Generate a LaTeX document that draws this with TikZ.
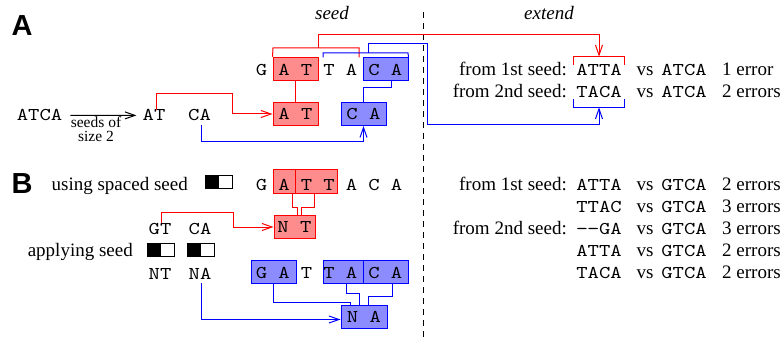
\documentclass[tikz,border=0pt]{standalone}
\usepackage{fontspec}
\setmainfont{Liberation Serif}
\newfontfamily\labfont{Liberation Sans}
\newfontfamily\ttf{lmmono10-regular.otf}[FakeStretch=1.2]
\usetikzlibrary{arrows.meta}
\definecolor{rline}{RGB}{255,0,0}
\definecolor{rfill}{RGB}{255,140,140}
\definecolor{bline}{RGB}{0,0,255}
\definecolor{bfill}{RGB}{140,140,255}
\newcommand\szN{\fontsize{19}{22}\selectfont}
\newcommand\szS{\fontsize{15.5}{17}\selectfont}
\newcommand\ttN{\fontsize{18}{22}\selectfont\ttf}
\begin{document}
\begin{tikzpicture}[x=1pt,y=-1pt,
  txt/.style={inner sep=0pt, anchor=base, font=\szN},
  tt/.style={inner sep=0pt, anchor=base, font=\ttN},
  lab/.style={inner sep=0pt, font=\labfont\fontsize{29}{30}\selectfont\bfseries},
  rbox/.style={draw=rline, fill=rfill, line width=1pt, inner sep=0pt, minimum height=23pt, font=\ttN},
  bbox/.style={draw=bline, fill=bfill, line width=1pt, inner sep=0pt, minimum height=23pt, font=\ttN},
  rd/.style={draw=rline, line width=1pt},
  bl/.style={draw=bline, line width=1pt},
  arr/.style={-{Straight Barb[length=10pt,width=7pt]}},
  seedicon/.style={draw, line width=0.8pt, minimum width=27pt, minimum height=13pt, inner sep=0pt,
    path picture={\fill[black] (path picture bounding box.south west) rectangle (path picture bounding box.north);}}
]
\useasboundingbox (0,0) rectangle (781,339);

% panel labels and headings
\node[lab] (labA) at (22,26) {A};
\node[lab] (labB) at (22,184) {B};
\node[txt, font=\szN\itshape] (hseed) at (332,20) {seed};
\node[txt, font=\szN\itshape] (hext) at (549,20) {extend};
\coordinate (dtop) at (423,12);
\coordinate (dbot) at (423,339);
\draw[line width=1pt, dash pattern=on 6pt off 5pt] (dtop) -- (dbot);

% ---------------- panel A ----------------
\node[rbox, minimum width=45pt] (rA1) at (295.5,69) {};
\node[bbox, minimum width=45pt] (bA1) at (385.5,69) {};
\foreach \x/\c/\n in {261.5/G/1,284/A/2,306.5/T/3,329/T/4,351.5/A/5,374/C/6,396.5/A/7}
  \node[tt] (aL\n) at (\x,76) {\c};

\node[tt] (wATCA) at (39.5,121) {ATCA};
\node[tt] (wAT) at (154,121) {AT};
\node[tt] (wCA) at (199.5,121) {CA};
\node[txt, font=\szS] (seedsof) at (96,128) {seeds of};
\node[txt, font=\szS] (sizetwo) at (96,142) {size 2};
\node[rbox, minimum width=45pt] (rA2) at (295.5,114) {A T};
\node[bbox, minimum width=45pt] (bA2) at (363.5,114) {C A};

\draw[line width=1pt, arr] ([xshift=8pt]wATCA.east) -- ([xshift=-6pt]wAT.west);

% right side A
\node[txt, anchor=base east] (fA1) at (567,76) {from 1st seed:};
\node[tt] (xA1) at (599,76) {ATTA};
\node[txt] (vA1) at (645,76) {vs};
\node[tt] (yA1) at (684,76) {ATCA};
\node[txt, anchor=base west] (eA1) at (722,76) {1 error};
\node[txt, anchor=base east] (fA2) at (567,98) {from 2nd seed:};
\node[tt] (xA2) at (599,98) {TACA};
\node[txt] (vA2) at (645,98) {vs};
\node[tt] (yA2) at (684,98) {ATCA};
\node[txt, anchor=base west] (eA2) at (722,98) {2 errors};

% brackets
\draw[rd] (rA1.north west) -- (273,48) -- (359,48) -- (359,57.5);
\draw[bl] (323,57.5) -- (323,53) -- (408,53) -- (bA1.north east);
\draw[rd] ([xshift=-2.5pt]xA1.north west) -- ++(0,-8) -| ([xshift=2.5pt]xA1.north east);
\draw[bl] ([xshift=-2.5pt]xA2.south west) ++(0,1) -- ++(0,8) -| ([xshift=2.5pt,yshift=-1pt]xA2.south east);

% connectors A
\coordinate (rj) at (318,48);
\coordinate (bj) at (368,53);
\draw[rd, arr] (rj) -- (318,35) -| ([yshift=8pt]xA1.north);
\draw[bl, arr] (bj) -- (368,44) -- (427,44) -- (427,125) -| ([yshift=-9pt]xA2.south);
\draw[rd] (rA1) -- (rA2);
\draw[bl] ([xshift=5.5pt]bA1.south) -- ++(0,7) -| (bA2.north);
\draw[rd, arr] ([xshift=2pt]wAT.north) |- (232,94) |- (rA2.west);
\draw[bl, arr] ([xshift=1.5pt,yshift=-4pt]wCA.south) |- (363.5,142) -- (bA2.south);

% ---------------- panel B ----------------
\node[txt, anchor=base east] (usp) at (188,190) {using spaced seed};
\node[seedicon] (ic1) at (219,181.5) {};
\node[rbox, minimum width=23pt] (rB1) at (284.5,181.5) {};
\node[rbox, minimum width=41.5pt] (rB2) at (316.5,181.5) {};
\foreach \x/\c/\n in {261.5/G/1,284/A/2,306.5/T/3,329/T/4,351.5/A/5,374/C/6,396.5/A/7}
  \node[tt] (bL\n) at (\x,190) {\c};
\node[rbox, minimum width=41pt] (rB3) at (294.5,227) {N T};

\node[tt] (wGT) at (160,234) {GT};
\node[tt] (wCA2) at (200,234) {CA};
\node[txt, anchor=base east] (apl) at (133,256) {applying seed};
\node[seedicon] (ic2) at (160.5,250) {};
\node[seedicon] (ic3) at (201,250) {};
\node[tt] (wNT) at (160,279) {NT};
\node[tt] (wNA) at (200,279) {NA};

\node[bbox, minimum width=45pt] (bB1) at (273.5,272) {};
\node[bbox, minimum width=40pt] (bB2) at (343,272) {};
\node[bbox, minimum width=45pt] (bB3) at (385.5,272) {};
\foreach \x/\c/\n in {261.5/G/1,284/A/2,306.5/T/3,329/T/4,351.5/A/5,374/C/6,396.5/A/7}
  \node[tt] (cL\n) at (\x,278) {\c};
\node[bbox, minimum width=46pt] (bB4) at (364,317) {N A};

\draw[rd] ([xshift=7.5pt]rB1.south) -- ++(0,14) -| ([xshift=2.5pt]rB3.north);
\draw[rd] ([xshift=-2.5pt]rB2.south) -- ++(0,14) -| ([xshift=6.5pt]rB3.north);
\draw[rd, arr] ([xshift=1pt]wGT.north) |- (233,212) |- (rB3.west);

\draw[bl] (bB1.south) -- ++(0,18) -| ([xshift=-14pt]bB4.north);
\draw[bl] ([xshift=3pt]bB2.south) -- ++(0,9) -| ([xshift=-5pt]bB4.north);
\draw[bl] ([xshift=6.5pt]bB3.south) -- ++(0,12) -| ([xshift=4pt]bB4.north);
\draw[bl, arr] ([xshift=1pt,yshift=-4pt]wNA.south) |- ([yshift=-2.5pt]bB4.west);

% right side B
\node[txt, anchor=base east] (fB1) at (567,190) {from 1st seed:};
\node[txt, anchor=base east] (fB3) at (567,234) {from 2nd seed:};
\foreach \yy/\w/\e/\n in {190/ATTA/2 errors/1, 212/TTAC/3 errors/2, 234/−−GA/3 errors/3, 256/ATTA/2 errors/4, 278/TACA/2 errors/5}{
  \node[tt] (xB\n) at (599,\yy) {\w};
  \node[txt] (vB\n) at (645,\yy) {vs};
  \node[tt] (yB\n) at (684,\yy) {GTCA};
  \node[txt, anchor=base west] (eB\n) at (722,\yy) {\e};
}
\end{tikzpicture}
\end{document}
